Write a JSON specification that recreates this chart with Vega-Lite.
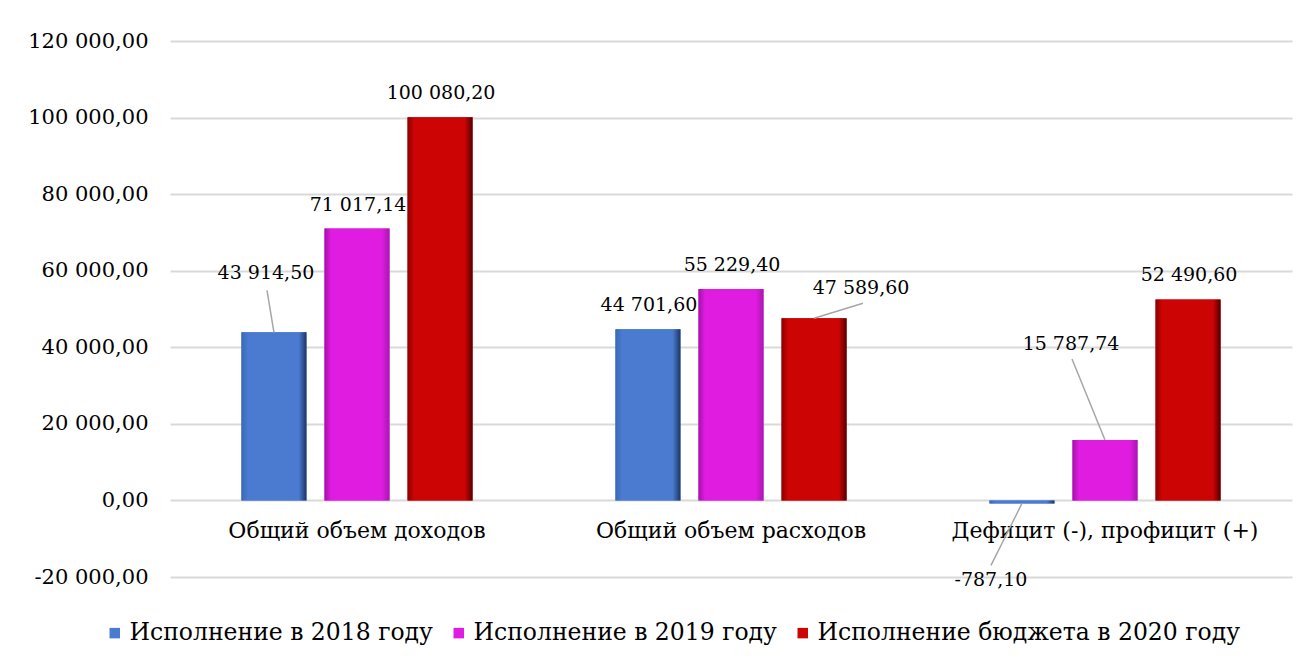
{
  "$schema": "https://vega.github.io/schema/vega-lite/v6.json",
  "width": 1122,
  "height": 536,
  "padding": {"left": 27, "top": 30, "right": 21, "bottom": 10},
  "background": "white",
  "config": {
    "locale": {"number": {"decimal": ",", "thousands": " ", "grouping": [3], "currency": ["", ""], "minus": "-"}},
    "view": {"stroke": null},
    "font": "DejaVu Serif"
  },
  "data": {
    "values": [
      {"cat": "Общий объем доходов", "series": "Исполнение в 2018 году", "value": 43914.5},
      {"cat": "Общий объем доходов", "series": "Исполнение в 2019 году", "value": 71017.14},
      {"cat": "Общий объем доходов", "series": "Исполнение бюджета в 2020 году", "value": 100080.2},
      {"cat": "Общий объем расходов", "series": "Исполнение в 2018 году", "value": 44701.6},
      {"cat": "Общий объем расходов", "series": "Исполнение в 2019 году", "value": 55229.4},
      {"cat": "Общий объем расходов", "series": "Исполнение бюджета в 2020 году", "value": 47589.6},
      {"cat": "Дефицит (-), профицит (+)", "series": "Исполнение в 2018 году", "value": -787.1},
      {"cat": "Дефицит (-), профицит (+)", "series": "Исполнение в 2019 году", "value": 15787.74},
      {"cat": "Дефицит (-), профицит (+)", "series": "Исполнение бюджета в 2020 году", "value": 52490.6}
    ]
  },
  "encoding": {
    "x": {
      "field": "cat", "type": "nominal",
      "sort": ["Общий объем доходов", "Общий объем расходов", "Дефицит (-), профицит (+)"],
      "scale": {"paddingInner": 0.382, "paddingOuter": 0.191},
      "axis": {"title": null, "orient": "bottom", "offset": -77, "domain": false, "ticks": false, "labelAngle": 0, "labelFontSize": 22, "labelColor": "#000000", "labelPadding": 20, "labelLimit": 500}
    },
    "xOffset": {
      "field": "series", "type": "nominal",
      "sort": ["Исполнение в 2018 году", "Исполнение в 2019 году", "Исполнение бюджета в 2020 году"],
      "scale": {"paddingInner": 0.217, "paddingOuter": 0}
    },
    "y": {
      "field": "value", "type": "quantitative",
      "scale": {"domain": [-20000, 120000], "nice": false},
      "axis": {"title": null, "values": [-20000, 0, 20000, 40000, 60000, 80000, 100000, 120000], "format": ",.2f", "domain": false, "ticks": false, "grid": true, "gridColor": "#d9d9d9", "gridWidth": 2, "labelFontSize": 21, "labelColor": "#000000", "labelPadding": 22}
    }
  },
  "layer": [
    {
      "mark": {"type": "bar"},
      "encoding": {
        "color": {
          "field": "series", "type": "nominal",
          "sort": ["Исполнение в 2018 году", "Исполнение в 2019 году", "Исполнение бюджета в 2020 году"],
          "scale": {"range": ["#4a7bd0", "#e01ce0", "#cc0404"]},
          "legend": {"title": null, "orient": "none", "direction": "horizontal", "legendX": -67, "legendY": 580, "symbolType": "square", "symbolSize": 110, "symbolStrokeWidth": 0, "labelFontSize": 23.5, "labelColor": "#000000", "labelOffset": 3, "columnPadding": 14, "labelLimit": 600}
        }
      }
    },
    {
      "transform": [{"filter": "datum.series == 'Исполнение в 2018 году'"}],
      "mark": {"type": "bar", "color": {"gradient": "linear", "x1": 0, "x2": 1, "y1": 0, "y2": 0, "stops": [{"offset": 0, "color": "#3a68b8"}, {"offset": 0.1, "color": "#4a7bd0"}, {"offset": 0.88, "color": "#4a7bd0"}, {"offset": 1, "color": "#1c3566"}]}}
    },
    {
      "transform": [{"filter": "datum.series == 'Исполнение в 2019 году'"}],
      "mark": {"type": "bar", "color": {"gradient": "linear", "x1": 0, "x2": 1, "y1": 0, "y2": 0, "stops": [{"offset": 0, "color": "#a012a8"}, {"offset": 0.1, "color": "#e01ce0"}, {"offset": 0.88, "color": "#e01ce0"}, {"offset": 1, "color": "#a818b0"}]}}
    },
    {
      "transform": [{"filter": "datum.series == 'Исполнение бюджета в 2020 году'"}],
      "mark": {"type": "bar", "color": {"gradient": "linear", "x1": 0, "x2": 1, "y1": 0, "y2": 0, "stops": [{"offset": 0, "color": "#8a0000"}, {"offset": 0.1, "color": "#cc0404"}, {"offset": 0.88, "color": "#cc0404"}, {"offset": 1, "color": "#560000"}]}}
    },
    {
      "transform": [{"filter": "datum.value == 43914.5 || datum.value == 47589.6 || datum.value == -787.1 || datum.value == 15787.74"}],
      "mark": {
        "type": "rule", "color": "#a6a6a6", "strokeWidth": 1.5,
        "x2Offset": {"expr": "datum.value == 43914.5 ? -90 : datum.value == 47589.6 ? 132 : datum.value == -787.1 ? -114 : -33"},
        "y2Offset": {"expr": "datum.value == 43914.5 ? -42 : datum.value == 47589.6 ? -15 : datum.value == -787.1 ? 62 : -81"}
      },
      "encoding": {
        "x2": {"field": "cat"},
        "y2": {"field": "value"}
      }
    },
    {
      "mark": {
        "type": "text", "fontSize": 19, "color": "#000000", "baseline": "middle", "align": "center",
        "dx": {"expr": "datum.value == 43914.5 ? -8 : datum.value == 47589.6 ? 47 : datum.value == -787.1 ? -31 : datum.value == 15787.74 ? -34 : 1"},
        "dy": {"expr": "datum.value == 43914.5 ? -59 : datum.value == 47589.6 ? -30 : datum.value == -787.1 ? 77 : datum.value == 15787.74 ? -96 : -24"}
      },
      "encoding": {
        "text": {"field": "value", "type": "quantitative", "format": ",.2f"}
      }
    }
  ]
}
